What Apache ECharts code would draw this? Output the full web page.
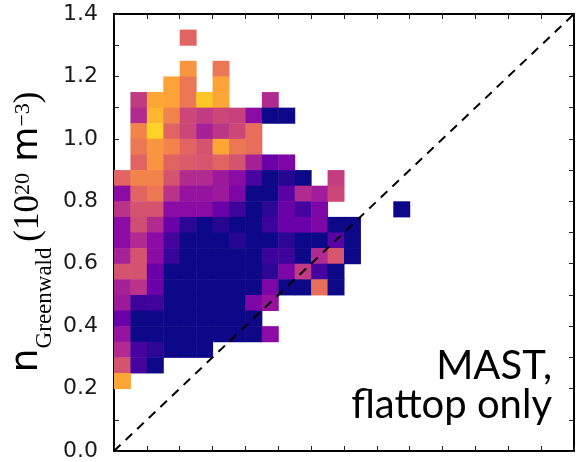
<!DOCTYPE html>
<html>
<head>
<meta charset="utf-8">
<script src="https://cdn.jsdelivr.net/npm/echarts@6/dist/echarts.min.js"></script>
<style>
  html, body { margin: 0; padding: 0; background: #fff; }
  #chart { width: 577px; height: 462px; }
</style>
</head>
<body>
<div id="chart"></div>
<script>
// 2-D histogram of n_e vs Greenwald density, 0.05 x 0.05 bins.
// Each row array starts at x = 0; a value is the colour level (0..1, plasma), null = empty bin.
const binSize = 0.05;
const yTickValues = [0.0, 0.2, 0.4, 0.6, 0.8, 1.0, 1.2, 1.4];

const r130 = [null, null, null, null, 0.60];
const r125 = [];
const r120 = [null, null, null, null, 0.75, null, 0.66];
const r115 = [null, null, null, 0.79, 0.66, null, 0.79];
const r110 = [null, 0.46, 0.80, 0.79, 0.66, 0.88, 0.80, null, null, 0.40];
const r105 = [null, 0.40, 0.84, 0.70, 0.50, 0.46, 0.50, 0.48, 0.29, 0.00, 0.00];
const r100 = [null, 0.70, 0.91, 0.60, 0.50, 0.37, 0.44, 0.50, 0.63];
const r095 = [null, 0.66, 0.75, 0.70, 0.60, 0.54, 0.80, 0.66, 0.63];
const r090 = [null, 0.60, 0.75, 0.60, 0.57, 0.55, 0.60, 0.54, 0.37, 0.20, 0.25];
const r085 = [0.60, 0.70, 0.70, 0.54, 0.40, 0.40, 0.34, 0.29, 0.12, 0.00, 0.05, 0.00, null, 0.47];
const r080 = [0.29, 0.60, 0.66, 0.43, 0.32, 0.32, 0.34, 0.25, 0.00, 0.00, 0.16, 0.40, 0.35, 0.50];
const r075 = [0.43, 0.54, 0.54, 0.29, 0.29, 0.29, 0.20, 0.09, 0.00, 0.06, 0.20, 0.11, 0.25, null, null, null, null, 0.00];
const r070 = [0.29, 0.52, 0.40, 0.20, 0.06, 0.00, 0.05, 0.00, 0.00, 0.09, 0.20, 0.20, 0.25, 0.00, 0.00];
const r065 = [0.29, 0.40, 0.29, 0.11, 0.00, 0.00, 0.00, 0.05, 0.00, 0.00, 0.06, 0.00, 0.00, 0.16, 0.00];
const r060 = [0.37, 0.54, 0.29, 0.08, 0.00, 0.00, 0.00, 0.00, 0.00, 0.09, 0.09, 0.00, 0.40, 0.55, 0.00];
const r055 = [0.54, 0.54, 0.20, 0.00, 0.00, 0.00, 0.00, 0.00, 0.00, 0.06, 0.25, 0.46, 0.11, 0.00];
const r050 = [0.37, 0.43, 0.20, 0.00, 0.00, 0.00, 0.00, 0.00, 0.00, 0.25, 0.00, 0.00, 0.63, 0.00];
const r045 = [0.34, 0.09, 0.10, 0.00, 0.00, 0.00, 0.00, 0.00, 0.25, 0.32];
const r040 = [0.20, 0.00, 0.00, 0.00, 0.00, 0.00, 0.00, 0.00, 0.00];
const r035 = [0.32, 0.00, 0.00, 0.00, 0.00, 0.00, 0.00, 0.00, 0.00, 0.29];
const r030 = [0.40, 0.11, 0.06, 0.00, 0.00, 0.00];
const r025 = [0.54, 0.11, 0.00];
const r020 = [0.80];

const rowEdges = [1.30, 1.25, 1.20, 1.15, 1.10, 1.05, 1.00, 0.95, 0.90, 0.85, 0.80, 0.75,
                  0.70, 0.65, 0.60, 0.55, 0.50, 0.45, 0.40, 0.35, 0.30, 0.25, 0.20];
const rowValues = [r130, r125, r120, r115, r110, r105, r100, r095, r090, r085, r080, r075,
                   r070, r065, r060, r055, r050, r045, r040, r035, r030, r025, r020];

// Diagonal n_e = n_Greenwald
const diagonal = [[0, 0], [1.4, 1.4]];

const plasma = ['#0d0887', '#41049d', '#6a00a8', '#8f0da4', '#b12a90', '#cc4778',
                '#e16462', '#f2844b', '#fca636', '#fcce25', '#f0f921'];

const cells = [];
rowEdges.forEach((y0, r) => {
  rowValues[r].forEach((v, i) => {
    if (v !== null && v !== undefined) {
      cells.push([+(i * binSize).toFixed(2), y0, v]);
    }
  });
});

const chart = echarts.init(document.getElementById('chart'), null, { renderer: 'canvas' });

const frameAxis = {
  type: 'value',
  min: 0,
  max: 1.4,
  axisLine: { show: true, onZero: false, lineStyle: { color: '#000', width: 2 } },
  axisTick: { show: true, inside: true, length: 5, lineStyle: { color: '#222', width: 1 } },
  axisLabel: { show: false },
  splitLine: { show: false }
};

chart.setOption({
  animation: false,
  backgroundColor: '#fff',
  grid: { left: 114, right: 3, top: 14, bottom: 6, containLabel: false },
  xAxis: [
    Object.assign({}, frameAxis, { position: 'bottom', interval: 0.1 }),
    Object.assign({}, frameAxis, { position: 'top', interval: 0.1 })
  ],
  yAxis: [
    Object.assign({}, frameAxis, {
      position: 'left',
      interval: 0.2,
      minorTick: { show: true, splitNumber: 2, length: 5, lineStyle: { color: '#222', width: 1 } },
      axisLabel: {
        show: true,
        margin: 16,
        fontSize: 22,
        fontFamily: 'DejaVu Sans',
        color: '#1a1a1a',
        formatter: v => yTickValues.some(t => Math.abs(t - v) < 1e-6) ? v.toFixed(1) : ''
      }
    }),
    Object.assign({}, frameAxis, {
      position: 'right',
      interval: 0.2,
      minorTick: { show: true, splitNumber: 2, length: 5, lineStyle: { color: '#222', width: 1 } }
    })
  ],
  visualMap: {
    show: false,
    type: 'continuous',
    seriesIndex: 0,
    dimension: 2,
    min: 0,
    max: 1,
    inRange: { color: plasma }
  },
  series: [
    {
      type: 'custom',
      xAxisIndex: 0,
      yAxisIndex: 0,
      encode: { x: 0, y: 1 },
      data: cells,
      renderItem: (params, api) => {
        const x0 = api.value(0);
        const y0 = api.value(1);
        const p0 = api.coord([x0, y0 + binSize]);
        const p1 = api.coord([x0 + binSize, y0]);
        return {
          type: 'rect',
          shape: { x: p0[0], y: p0[1], width: p1[0] - p0[0] + 0.5, height: p1[1] - p0[1] + 0.5 },
          style: { fill: api.visual('color') }
        };
      },
      z: 1
    },
    {
      type: 'line',
      xAxisIndex: 0,
      yAxisIndex: 0,
      data: diagonal,
      symbol: 'none',
      lineStyle: { color: '#000', width: 2, type: [9, 7] },
      z: 5
    }
  ],
  graphic: [
    {
      type: 'text',
      x: 34,
      y: 232,
      rotation: Math.PI / 2,
      style: {
        text: '{n|n}{sub|Greenwald}{gap| }{p|(10}{sup|20}{m| m}{sup|−3}{p|)}',
        align: 'center',
        verticalAlign: 'middle',
        fill: '#000',
        rich: {
          n: { fontFamily: 'DejaVu Sans', fontSize: 38, lineHeight: 44, verticalAlign: 'bottom', padding: [0, 0, 10, 0] },
          sub: { fontFamily: 'Liberation Serif', fontSize: 23, lineHeight: 28, verticalAlign: 'bottom' },
          gap: { fontFamily: 'DejaVu Sans', fontSize: 18, lineHeight: 44, verticalAlign: 'bottom', padding: [0, 0, 10, 0] },
          p: { fontFamily: 'Liberation Serif', fontSize: 35, lineHeight: 44, verticalAlign: 'bottom', padding: [0, 0, 10, 0] },
          sup: { fontFamily: 'Liberation Serif', fontSize: 22, lineHeight: 24, verticalAlign: 'top' },
          m: { fontFamily: 'DejaVu Sans', fontSize: 36, lineHeight: 44, verticalAlign: 'bottom', padding: [0, 0, 10, 0] }
        }
      },
      z: 10
    },
    {
      type: 'text',
      x: 552,
      y: 366,
      style: {
        text: 'MAST,',
        align: 'right',
        verticalAlign: 'middle',
        fontFamily: 'Lato',
        fontSize: 40,
        fill: '#000'
      },
      z: 10
    },
    {
      type: 'text',
      x: 552,
      y: 405,
      style: {
        text: 'flattop only',
        align: 'right',
        verticalAlign: 'middle',
        fontFamily: 'Lato',
        fontSize: 40,
        fill: '#000'
      },
      z: 10
    }
  ]
});
</script>
</body>
</html>
